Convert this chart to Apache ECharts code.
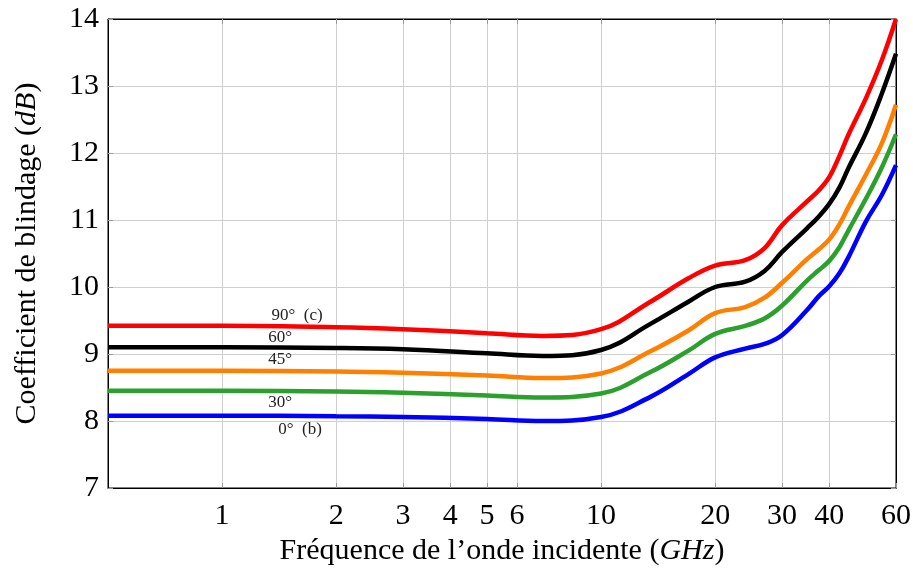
<!DOCTYPE html>
<html>
<head>
<meta charset="utf-8">
<script src="https://cdn.jsdelivr.net/npm/echarts@6/dist/echarts.min.js"></script>
<style>
  html, body { margin: 0; padding: 0; background: #fff; }
  #chart { width: 913px; height: 571px; }
</style>
</head>
<body>
<div id="chart"></div>
<script>
// frequencies (GHz) and shielding values (dB)
const freq = [0.5, 1, 2, 3, 5, 7, 10, 13.5, 17, 20, 24, 27, 30, 35, 37.5, 40, 42.5, 45, 50, 55, 60];
const red90 = [9.42, 9.42, 9.40, 9.37, 9.31, 9.27, 9.37, 9.78, 10.13, 10.32, 10.40, 10.58, 10.92, 11.28, 11.44, 11.64, 11.95, 12.28, 12.82, 13.38, 14.0];
const black60 = [9.10, 9.10, 9.09, 9.07, 9.01, 8.97, 9.06, 9.45, 9.78, 10.00, 10.08, 10.24, 10.52, 10.88, 11.05, 11.24, 11.48, 11.78, 12.30, 12.88, 13.48];
const orange45 = [8.75, 8.75, 8.74, 8.72, 8.68, 8.64, 8.71, 9.04, 9.35, 9.61, 9.70, 9.84, 10.06, 10.42, 10.56, 10.71, 10.93, 11.20, 11.68, 12.14, 12.72];
const green30 = [8.45, 8.45, 8.44, 8.42, 8.38, 8.35, 8.41, 8.73, 9.05, 9.30, 9.42, 9.53, 9.72, 10.10, 10.25, 10.39, 10.59, 10.85, 11.32, 11.78, 12.28];
const blue0 = [8.08, 8.08, 8.07, 8.06, 8.03, 8.00, 8.06, 8.36, 8.70, 8.95, 9.08, 9.15, 9.28, 9.66, 9.86, 10.01, 10.20, 10.45, 10.98, 11.37, 11.82];

const xTicks = [1, 2, 3, 4, 5, 6, 10, 20, 30, 40, 60];

const FONT = 'Liberation Serif';

const pairs = (ys) => freq.map((f, i) => [f, ys[i]]);

const curveLabel = (text, coord) => ({
    symbol: 'circle',
    symbolSize: 0,
    silent: true,
    label: {
        show: true,
        position: 'inside',
        formatter: text,
        color: '#222',
        fontFamily: FONT,
        fontSize: 17
    },
    data: [{ coord: coord }]
});

const makeSeries = (name, color, ys, label) => ({
    name: name,
    type: 'line',
    data: pairs(ys),
    smooth: 0.4,
    showSymbol: false,
    lineStyle: { color: color, width: 4.5 },
    itemStyle: { color: color },
    markPoint: label,
    z: 3
});

const logAxis = (pos, show) => ({
    type: 'log',
    position: pos,
    min: 0.5,
    max: 60,
    logBase: 10,
    axisLine: { show: true, lineStyle: { color: '#000', width: 1 } },
    axisTick: { show: true, inside: true, length: 5, customValues: xTicks, lineStyle: { color: '#999' } },
    axisLabel: {
        show: show,
        customValues: xTicks,
        margin: 13,
        color: '#000',
        fontFamily: FONT,
        fontSize: 30
    },
    splitLine: { show: show, lineStyle: { color: '#cfcfcf', width: 1 } },
    minorTick: { show: false },
    minorSplitLine: { show: false }
});

const valAxis = (pos, show) => ({
    type: 'value',
    position: pos,
    min: 7,
    max: 14,
    interval: 1,
    axisLine: { show: true, lineStyle: { color: '#000', width: 1 } },
    axisTick: { show: true, inside: true, length: 5, lineStyle: { color: '#999' } },
    axisLabel: {
        show: show,
        margin: 9,
        color: '#000',
        fontFamily: FONT,
        fontSize: 30
    },
    splitLine: { show: show, lineStyle: { color: '#cfcfcf', width: 1 } }
});

const titleStyle = {
    color: '#000', fontFamily: FONT, fontSize: 30,
    rich: { i: { fontStyle: 'italic', fontFamily: FONT, fontSize: 30, color: '#000' } }
};

const xBottom = logAxis('bottom', true);
xBottom.name = 'Fréquence de l\u2019onde incidente ({i|GHz})';
xBottom.nameLocation = 'middle';
xBottom.nameGap = 48;
xBottom.nameTextStyle = titleStyle;

const yLeft = valAxis('left', true);
yLeft.name = 'Coefficient de blindage ({i|dB})';
yLeft.nameLocation = 'middle';
yLeft.nameGap = 66;
yLeft.nameTextStyle = titleStyle;

const option = {
    backgroundColor: '#fff',
    animation: false,
    grid: {
        left: 108,
        right: 17,
        top: 19,
        bottom: 83,
        outerBoundsMode: 'none',
        containLabel: false,
        show: true,
        borderColor: '#000',
        borderWidth: 1
    },
    xAxis: [xBottom, logAxis('top', false)],
    yAxis: [yLeft, valAxis('right', false)],
    series: [
        makeSeries('0°', '#0000ff', blue0, curveLabel('0°  (b)', [1.606, 7.88])),
        makeSeries('30°', '#2ca02c', green30, curveLabel('30°', [1.422, 8.28])),
        makeSeries('45°', '#ff7f00', orange45, curveLabel('45°', [1.422, 8.91])),
        makeSeries('60°', '#000000', black60, curveLabel('60°', [1.422, 9.24])),
        makeSeries('90°', '#ff0000', red90, curveLabel('90°  (c)', [1.577, 9.58]))
    ]
};

const myChart = echarts.init(document.getElementById('chart'), null, { renderer: 'canvas' });
myChart.setOption(option);
</script>
</body>
</html>
